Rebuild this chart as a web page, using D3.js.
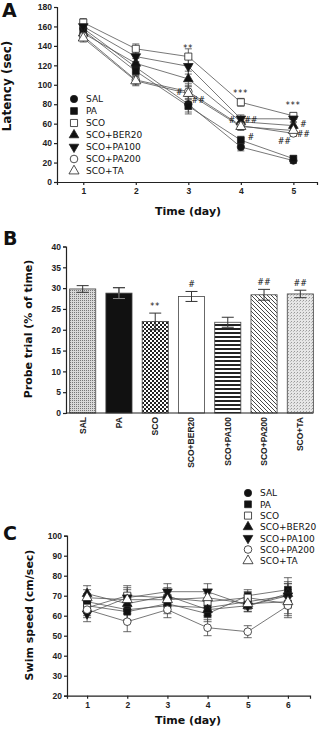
<!DOCTYPE html>
<html>
<head>
<meta charset="utf-8">
<script src="https://cdn.jsdelivr.net/npm/d3@7"></script>
<style>
  body { margin: 0; background: #fff; }
  svg { display: block; font-family: "DejaVu Sans", Verdana, sans-serif; }
  .axis path, .axis line { stroke: #222; stroke-width: 1.2; }
  .axis text { font-size: 8.5px; font-weight: bold; fill: #222; }
</style>
</head>
<body>
<svg id="fig" width="319" height="729"></svg>
<script>
// ---- data ----
const groups = ["SAL", "PA", "SCO", "SCO+BER20", "SCO+PA100", "SCO+PA200", "SCO+TA"]

// panel A: escape latency (sec), days 1-5
const daysA = [1, 2, 3, 4, 5]
const latencySAL   = [158, 118, 80, 36, 22]
const latencyPA    = [156, 114, 78, 43, 24]
const latencySCO   = [164, 137, 129, 82, 68]
const latencyBER20 = [153, 122, 106, 62, 58]
const latencyPA100 = [160, 129, 119, 65, 65]
const latencyPA200 = [150, 105, 93, 58, 50]
const latencyTA    = [148, 104, 91, 57, 53]
const latencySEM   = [4, 5, 8, 4, 3]
const latencyTicks = [0, 20, 40, 60, 80, 100, 120, 140, 160, 180]

// significance marks in A: day, value level, text, side
const marksA = [
  { day: 3, v: 138, text: "**", side: "mid" },
  { day: 3, v: 93, text: "#", side: "left" },
  { day: 3, v: 84, text: "##", side: "right" },
  { day: 4, v: 92, text: "***", side: "mid" },
  { day: 4, v: 64, text: "#", side: "left" },
  { day: 4, v: 64, text: "##", side: "right" },
  { day: 4, v: 46, text: "#", side: "right" },
  { day: 5, v: 79, text: "***", side: "mid" },
  { day: 5, v: 60, text: "#", side: "right" },
  { day: 5, v: 49, text: "##", side: "right" },
  { day: 5, v: 42, text: "##", side: "left" }
]

// panel B: probe trial (% of time)
const probeMean  = [29.8, 28.8, 22.0, 28.0, 21.8, 28.4, 28.6]
const probeSEM   = [0.8, 1.3, 2.0, 1.2, 1.2, 1.3, 0.9]
const probeMarks = ["", "", "**", "#", "", "##", "##"]
const probeTicks = [0, 5, 10, 15, 20, 25, 30, 35, 40]

// panel C: swim speed (cm/sec), days 1-6
const daysC = [1, 2, 3, 4, 5, 6]
const speedSAL   = [67, 63, 65, 64, 67, 70]
const speedPA    = [65, 62, 66, 61, 70, 73]
const speedSCO   = [64, 70, 69, 67, 69, 66]
const speedBER20 = [71, 66, 70, 63, 65, 71]
const speedPA100 = [61, 69, 72, 72, 65, 70]
const speedPA200 = [63, 57, 63, 54, 52, 65]
const speedTA    = [69, 68, 68, 69, 66, 67]
const speedSEM   = [4, 5, 4, 4, 3, 6]
const speedTicks = [20, 30, 40, 50, 60, 70, 80, 90, 100]

const latency = [latencySAL, latencyPA, latencySCO, latencyBER20, latencyPA100, latencyPA200, latencyTA]
const speed = [speedSAL, speedPA, speedSCO, speedBER20, speedPA100, speedPA200, speedTA]

// marker style per group
const markers = [
  { type: d3.symbolCircle, size: 42, fill: "#111", rot: 0 },
  { type: d3.symbolSquare, size: 46, fill: "#111", rot: 0 },
  { type: d3.symbolSquare, size: 50, fill: "#fff", rot: 0 },
  { type: d3.symbolTriangle, size: 40, fill: "#111", rot: 0 },
  { type: d3.symbolTriangle, size: 40, fill: "#111", rot: 180 },
  { type: d3.symbolCircle, size: 46, fill: "#fff", rot: 0 },
  { type: d3.symbolTriangle, size: 44, fill: "#fff", rot: 0 }
]

const svg = d3.select('#fig')

// ---- patterns for panel B ----
const defs = svg.append('defs')
function pat(id, w, h, draw) {
  const p = defs.append('pattern').attr('id', id).attr('patternUnits', 'userSpaceOnUse')
    .attr('width', w).attr('height', h)
  draw(p)
}
pat('pSAL', 2, 2, p => {
  p.append('rect').attr('width', 2).attr('height', 2).attr('fill', '#d8d8d8')
  p.append('rect').attr('width', 1).attr('height', 1).attr('fill', '#777')
})
pat('pSCO', 4, 4, p => {
  p.append('rect').attr('width', 4).attr('height', 4).attr('fill', '#fff')
  p.append('rect').attr('width', 2).attr('height', 2).attr('fill', '#222')
  p.append('rect').attr('x', 2).attr('y', 2).attr('width', 2).attr('height', 2).attr('fill', '#222')
})
pat('pPA100', 4, 4, p => {
  p.append('rect').attr('width', 4).attr('height', 4).attr('fill', '#fff')
  p.append('rect').attr('width', 4).attr('height', 2).attr('fill', '#222')
})
pat('pPA200', 4, 4, p => {
  p.append('rect').attr('width', 4).attr('height', 4).attr('fill', '#fff')
  p.append('path').attr('d', 'M-1,-1 L5,5 M-1,3 L1,5 M3,-1 L5,1').attr('stroke', '#333').attr('stroke-width', 0.9)
})
pat('pTA', 3, 3, p => {
  p.append('rect').attr('width', 3).attr('height', 3).attr('fill', '#e6e6e6')
  p.append('rect').attr('width', 1).attr('height', 1).attr('fill', '#999')
  p.append('rect').attr('x', 2).attr('y', 1).attr('width', 1).attr('height', 1).attr('fill', '#bbb')
})
const barFills = ['url(#pSAL)', '#111', 'url(#pSCO)', '#fff', 'url(#pPA100)', 'url(#pPA200)', 'url(#pTA)']

function label(x, y, txt, size, opts = {}) {
  const t = svg.append('text').attr('x', x).attr('y', y).text(txt)
    .attr('font-size', size).attr('font-weight', opts.weight || 'bold').attr('fill', '#111')
    .attr('text-anchor', opts.anchor || 'middle')
  if (opts.rotate) t.attr('transform', `rotate(${opts.rotate},${x},${y})`)
  return t
}

function symbolPath(i) {
  return d3.symbol().type(markers[i].type).size(markers[i].size)()
}

// line panel helper used for A and C
function linePanel(x, y, days, series, sem, capW) {
  const g = svg.append('g')
  series.forEach((vals, i) => {
    const pts = days.map((d, k) => [d, vals[k]])
    g.append('path').datum(pts)
      .attr('d', d3.line().x(d => x(d[0])).y(d => y(d[1])))
      .attr('fill', 'none').attr('stroke', '#555').attr('stroke-width', 0.8)
  })
  series.forEach((vals, i) => {
    days.forEach((d, k) => {
      const cx = x(d), lo = y(vals[k] - sem[k]), hi = y(vals[k] + sem[k])
      g.append('path')
        .attr('d', `M${cx},${lo}V${hi}M${cx - capW},${lo}H${cx + capW}M${cx - capW},${hi}H${cx + capW}`)
        .attr('stroke', '#444').attr('stroke-width', 0.8).attr('fill', 'none')
    })
  })
  series.forEach((vals, i) => {
    g.selectAll(null).data(days.map((d, k) => [d, vals[k]])).enter().append('path')
      .attr('d', symbolPath(i))
      .attr('transform', d => `translate(${x(d[0])},${y(d[1])}) rotate(${markers[i].rot})`)
      .attr('fill', markers[i].fill).attr('stroke', '#222').attr('stroke-width', 0.8)
  })
}

function legend(x0, y0, step) {
  groups.forEach((name, i) => {
    const yy = y0 + i * step
    svg.append('path').attr('d', symbolPath(i))
      .attr('transform', `translate(${x0},${yy}) rotate(${markers[i].rot})`)
      .attr('fill', markers[i].fill).attr('stroke', '#222').attr('stroke-width', 0.8)
    label(x0 + 12, yy + 3.3, name, 9, { anchor: 'start', weight: 'normal' })
  })
}

/**--- panel A ---**/
const xA = d3.scaleLinear().domain([0.5, 5.45]).range([57, 317])
const yA = d3.scaleLinear().domain([0, 180]).range([182, 7])

svg.append('g').attr('class', 'axis').attr('transform', 'translate(0,182)')
  .call(d3.axisBottom(xA).tickValues(daysA).tickFormat(d3.format('d')).tickSizeOuter(0).tickSize(3).tickPadding(3))
svg.append('g').attr('class', 'axis').attr('transform', 'translate(57,0)')
  .call(d3.axisLeft(yA).tickValues(latencyTicks).tickSizeOuter(0).tickSize(3).tickPadding(2))

linePanel(xA, yA, daysA, latency, latencySEM, 3.5)

marksA.forEach(m => {
  const dx = m.side === 'left' ? -9 : m.side === 'right' ? 10 : 0
  label(xA(m.day) + dx, yA(m.v) + 3, m.text, 8, { weight: 'normal' })
    .attr('letter-spacing', m.text[0] === '*' ? 1 : 0)
})

legend(74, 99, 12)
label(11, 86, 'Latency (sec)', 12, { rotate: -90 })
label(188, 215, 'Time (day)', 11)
label(2, 17, 'A', 19, { anchor: 'start' })

/**--- panel B ---**/
const xB = d3.scaleBand().domain(groups).range([66, 317]).paddingInner(0.28).paddingOuter(0.1)
const yB = d3.scaleLinear().domain([0, 40]).range([413, 246.5])

svg.append('g').selectAll('rect').data(groups).enter().append('rect')
  .attr('x', d => xB(d)).attr('width', xB.bandwidth())
  .attr('y', (d, i) => yB(probeMean[i])).attr('height', (d, i) => yB(0) - yB(probeMean[i]))
  .attr('fill', (d, i) => barFills[i]).attr('stroke', '#444').attr('stroke-width', 0.8)

groups.forEach((d, i) => {
  const cx = xB(d) + xB.bandwidth() / 2
  const lo = yB(probeMean[i] - probeSEM[i]), hi = yB(probeMean[i] + probeSEM[i])
  const c = 6
  svg.append('path')
    .attr('d', `M${cx},${lo}V${hi}M${cx - c},${lo}H${cx + c}M${cx - c},${hi}H${cx + c}`)
    .attr('stroke', i === 1 ? '#888' : '#333').attr('stroke-width', 1).attr('fill', 'none')
  if (i === 1) {
    svg.append('path').attr('d', `M${cx},${yB(probeMean[i])}V${hi}M${cx - c},${hi}H${cx + c}`)
      .attr('stroke', '#333').attr('stroke-width', 1)
  }
  if (probeMarks[i]) {
    label(cx, hi - 4, probeMarks[i], 8, { weight: 'normal' })
      .attr('letter-spacing', probeMarks[i][0] === '*' ? 1 : 0)
  }
})

svg.append('g').attr('class', 'axis').attr('transform', 'translate(66,0)')
  .call(d3.axisLeft(yB).tickValues(probeTicks).tickSizeOuter(0).tickSize(3).tickPadding(2))
const axB = svg.append('g').attr('class', 'axis').attr('transform', 'translate(0,413)')
  .call(d3.axisBottom(xB).tickSize(0).tickSizeOuter(0).tickPadding(4))
axB.select('.domain').attr('d', 'M66,0H313')
axB.selectAll('text')
  .attr('transform', 'rotate(-90)').attr('text-anchor', 'end')
  .attr('x', -4).attr('y', 0).attr('dy', '0.35em')

label(32, 329, 'Probe trial (% of time)', 11, { rotate: -90 })
label(3, 245, 'B', 19, { anchor: 'start' })

/**--- panel C ---**/
const xC = d3.scaleLinear().domain([0.5, 6.55]).range([67, 310])
const yC = d3.scaleLinear().domain([20, 100]).range([695.7, 535.7])

svg.append('g').attr('class', 'axis').attr('transform', 'translate(0,695.7)')
  .call(d3.axisBottom(xC).tickValues(daysC).tickFormat(d3.format('d')).tickSizeOuter(0).tickSize(3).tickPadding(3))
svg.append('g').attr('class', 'axis').attr('transform', 'translate(67,0)')
  .call(d3.axisLeft(yC).tickValues(speedTicks).tickSizeOuter(0).tickSize(3).tickPadding(2))

linePanel(xC, yC, daysC, speed, speedSEM, 4)

legend(248, 493, 11.3)
label(33, 615, 'Swim speed (cm/sec)', 11, { rotate: -90 })
label(188, 724, 'Time (day)', 11)
label(3, 540, 'C', 19, { anchor: 'start' })
</script>
</body>
</html>
